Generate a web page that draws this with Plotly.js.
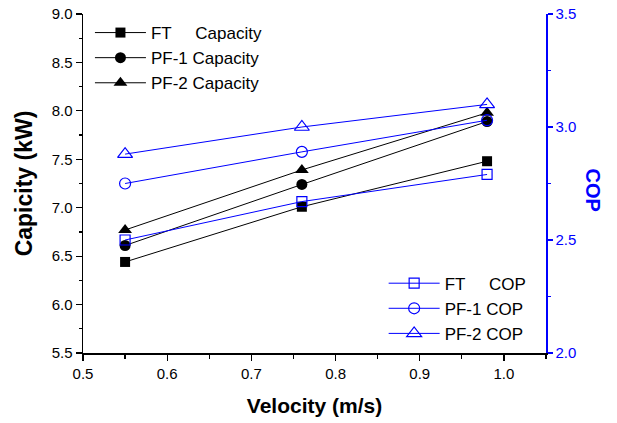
<!DOCTYPE html>
<html>
<head>
<meta charset="utf-8">
<script src="https://cdn.plot.ly/plotly-3.0.1.min.js"></script>
<style>html,body{margin:0;padding:0;background:#fff;}#chart{width:617px;height:423px;}</style>
</head>
<body>
<div id="chart"></div>
<script>
var velocity = [0.55, 0.76, 0.98];
var ftCapacity = [6.44, 7.01, 7.48];
var pf1Capacity = [6.61, 7.24, 7.89];
var pf2Capacity = [6.77, 7.39, 7.98];
var ftCOP = [2.50, 2.67, 2.79];
var pf1COP = [2.75, 2.89, 3.03];
var pf2COP = [2.88, 3.00, 3.10];
var capNames = ['FT\u00a0\u00a0\u00a0\u00a0\u00a0Capacity', 'PF-1 Capacity', 'PF-2 Capacity'];
var copNames = ['FT\u00a0\u00a0\u00a0\u00a0\u00a0COP', 'PF-1 COP', 'PF-2 COP'];
var xTickVals = [0.5, 0.6, 0.7, 0.8, 0.9, 1.0];
var yTickVals = [5.5, 6.0, 6.5, 7.0, 7.5, 8.0, 8.5, 9.0];
var y2TickVals = [2.0, 2.5, 3.0, 3.5];

var BLUE = '#0000ff';
function capTrace(y, name, sym, size) {
  return {x: velocity, y: y, name: name, type: 'scatter', mode: 'lines+markers',
    line: {color: '#000', width: 1},
    marker: {symbol: sym, size: size, color: '#000'},
    legend: 'legend', yaxis: 'y', xaxis: 'x'};
}
function copTrace(y, name, sym, size) {
  return {x: velocity, y: y, name: name, type: 'scatter', mode: 'lines+markers',
    line: {color: BLUE, width: 1},
    marker: {symbol: sym, size: size, color: BLUE, line: {color: BLUE, width: 1.2}},
    legend: 'legend2', yaxis: 'y2', xaxis: 'x'};
}
var data = [
  capTrace(ftCapacity, capNames[0], 'square', 10),
  capTrace(pf1Capacity, capNames[1], 'circle', 11),
  capTrace(pf2Capacity, capNames[2], 'triangle-up', 12),
  copTrace(ftCOP, copNames[0], 'square-open', 10),
  copTrace(pf1COP, copNames[1], 'circle-open', 11),
  copTrace(pf2COP, copNames[2], 'triangle-up-open', 13)
];
var tickFont = {family: 'Liberation Sans, Arial, sans-serif', size: 15, color: '#000'};
var layout = {
  width: 617, height: 423,
  margin: {l: 83, r: 71, t: 14, b: 70},
  paper_bgcolor: '#fff', plot_bgcolor: '#fff',
  font: {family: 'Liberation Sans, Arial, sans-serif', color: '#000'},
  showlegend: true,
  xaxis: {
    range: [0.5, 1.05], tickvals: xTickVals, ticktext: xTickVals.map(function(v){return v.toFixed(1);}),
    ticks: 'outside', ticklen: 6, tickwidth: 1.2, tickcolor: '#000',
    minor: {dtick: 0.05, tick0: 0.5, ticks: 'outside', ticklen: 4, tickwidth: 1.2, tickcolor: '#000'},
    showline: true, linecolor: '#000', linewidth: 1.5, showgrid: false, zeroline: false,
    tickfont: tickFont,
    title: {text: '<b>Velocity (m/s)</b>', font: {size: 21, family: 'Liberation Sans, Arial, sans-serif'}, standoff: 18}
  },
  xaxis2: {
    overlaying: 'x', side: 'top', anchor: 'y', matches: 'x', range: [0.5, 1.05],
    dtick: 0.05, tick0: 0.5, ticks: 'inside', ticklen: 7, tickwidth: 1.2, tickcolor: '#000',
    showticklabels: false, showline: true, linecolor: '#000', linewidth: 1.5, showgrid: false, zeroline: false
  },
  yaxis: {
    range: [5.5, 9.0], tickvals: yTickVals, ticktext: yTickVals.map(function(v){return v.toFixed(1);}),
    ticks: 'outside', ticklen: 6, tickwidth: 1.2, tickcolor: '#000',
    minor: {dtick: 0.25, tick0: 5.5, ticks: 'outside', ticklen: 3, tickwidth: 1.2, tickcolor: '#000'},
    showline: true, linecolor: '#000', linewidth: 1.5, showgrid: false, zeroline: false,
    tickfont: tickFont,
    title: {text: '<b>Capicity (kW)</b>', font: {size: 23, family: 'Liberation Sans, Arial, sans-serif'}, standoff: 12}
  },
  yaxis2: {
    overlaying: 'y', side: 'right', anchor: 'x', range: [2.0, 3.5],
    tickvals: y2TickVals, ticktext: y2TickVals.map(function(v){return v.toFixed(1);}),
    ticks: 'outside', ticklen: 5, tickwidth: 1.2, tickcolor: BLUE,
    minor: {dtick: 0.25, tick0: 2.0, ticks: 'outside', ticklen: 3, tickwidth: 1.2, tickcolor: BLUE},
    showline: true, linecolor: BLUE, linewidth: 1.5, showgrid: false, zeroline: false,
    tickfont: {family: 'Liberation Sans, Arial, sans-serif', size: 15, color: BLUE}
  },
  legend: {
    x: 0.015, y: 0.997, xanchor: 'left', yanchor: 'top', itemwidth: 51,
    bgcolor: 'rgba(0,0,0,0)', borderwidth: 0,
    font: {size: 17, color: '#000'}, tracegroupgap: 0
  },
  legend2: {
    x: 0.969, y: 0.004, xanchor: 'right', yanchor: 'bottom', itemwidth: 51,
    bgcolor: 'rgba(0,0,0,0)', borderwidth: 0,
    font: {size: 17, color: '#000'}, tracegroupgap: 0
  },
  annotations: [{
    text: '<b>COP</b>', xref: 'paper', yref: 'paper', x: 1, y: 0.5,
    xanchor: 'center', yanchor: 'middle', xshift: 47, yshift: -6, textangle: 90, showarrow: false,
    font: {size: 20, color: BLUE, family: 'Liberation Sans, Arial, sans-serif'}
  }]
};
Plotly.newPlot('chart', data, layout, {displayModeBar: false, staticPlot: true});
</script>
</body>
</html>
